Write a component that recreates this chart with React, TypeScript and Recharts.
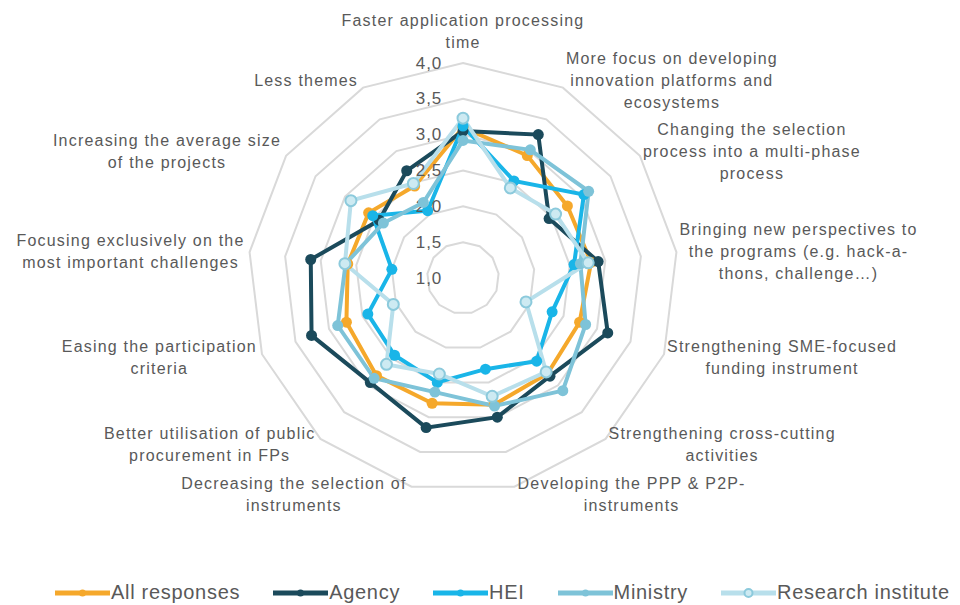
import React from 'react';
import { RadarChart, Radar, PolarGrid, PolarAngleAxis, PolarRadiusAxis, Legend } from 'recharts';

// categories clockwise from the top; \n marks the label line breaks
const categories = [
  'Faster application processing\ntime',
  'More focus on developing\ninnovation platforms and\necosystems',
  'Changing the selection\nprocess into a multi-phase\nprocess',
  'Bringing new perspectives to\nthe programs (e.g. hack-a-\nthons, challenge…)',
  'Strengthening SME-focused\nfunding instrument',
  'Strengthening cross-cutting\nactivities',
  'Developing the PPP & P2P-\ninstruments',
  'Decreasing the selection of\ninstruments',
  'Better utilisation of public\nprocurement in FPs',
  'Easing the participation\ncriteria',
  'Focusing exclusively on the\nmost important challenges',
  'Increasing the average size\nof the projects',
  'Less themes',
];

const allResponses = [3.1, 2.93, 2.77, 2.8, 2.74, 2.78, 2.82, 2.8, 2.82, 2.74, 2.62, 2.6, 2.45];
const agency = [3.05, 3.26, 2.46, 2.9, 3.16, 2.83, 3.0, 3.15, 2.95, 3.26, 3.14, 2.42, 2.69];
const hei = [3.12, 2.53, 3.05, 2.56, 2.33, 2.55, 2.31, 2.5, 2.44, 2.42, 2.0, 2.53, 2.06];
const ministry = [2.92, 3.02, 3.13, 2.65, 2.83, 3.1, 2.84, 2.64, 2.87, 2.87, 2.65, 2.35, 2.19];
const researchInstitute = [3.23, 2.42, 2.57, 2.76, 1.94, 2.75, 2.7, 2.38, 2.61, 2.04, 2.66, 2.9, 2.49];

const radiusTicks = [1, 1.5, 2, 2.5, 3, 3.5, 4];

const series = [
  { key: 'all', name: 'All responses', color: '#F5A82B', values: allResponses },
  { key: 'agency', name: 'Agency', color: '#1B4A5B', values: agency },
  { key: 'hei', name: 'HEI', color: '#19B5E8', values: hei },
  { key: 'ministry', name: 'Ministry', color: '#7EC3D8', values: ministry },
  { key: 'research', name: 'Research institute', color: '#B8DFEB', values: researchInstitute, hollow: true },
];

const data = categories.map((category, i) => {
  const row: Record<string, string | number> = { category };
  series.forEach((s) => { row[s.key] = s.values[i]; });
  return row;
});

const CX = 463;
const CY = 278;
const R = 215;
const GRAY = '#595959';
const FONT_FAMILY = '"Liberation Sans", Arial, sans-serif';
const LABEL_SIZE = 16;
const LABEL_SPACING = 1.2;

let measureCtx: CanvasRenderingContext2D | null = null;
function textWidth(s: string) {
  if (!measureCtx) measureCtx = document.createElement('canvas').getContext('2d');
  if (!measureCtx) return s.length * 8.5;
  measureCtx.font = `${LABEL_SIZE}px ${FONT_FAMILY}`;
  return measureCtx.measureText(s).width + s.length * LABEL_SPACING;
}

const AngleTick = (props: any) => {
  const { x, y, payload } = props;
  const dx = x - CX;
  const dy = y - CY;
  const len = Math.hypot(dx, dy) || 1;
  const ux = dx / len;
  const uy = dy / len;
  const vx = CX + ux * R;
  const vy = CY + uy * R;
  const lines = String(payload.value).split('\n');
  const w = Math.max(...lines.map(textWidth));
  const lh = 22;
  let tx = vx;
  if (ux > 0.1) tx = vx + 3 + w / 2;
  else if (ux < -0.1) tx = vx - 5 - w / 2;
  let top;
  if (Math.abs(ux) <= 0.1 && uy < 0) top = vy - 21 - (lines.length - 1) * lh;
  else top = vy + uy * 8 - ((lines.length - 1) * lh) / 2;
  return (
    <text
      fill={GRAY}
      fontSize={LABEL_SIZE}
      fontFamily={FONT_FAMILY}
      letterSpacing={LABEL_SPACING}
      textAnchor="middle"
    >
      {lines.map((l, i) => (
        <tspan key={i} x={tx} y={top + i * lh} dominantBaseline="central">
          {l}
        </tspan>
      ))}
    </text>
  );
};

const RadiusTick = (props: any) => {
  const { x, y, payload } = props;
  return (
    <text
      x={x - 34}
      y={y}
      fill={GRAY}
      fontSize={17}
      fontFamily={FONT_FAMILY}
      letterSpacing={1}
      textAnchor="middle"
      dominantBaseline="central"
    >
      {Number(payload.value).toFixed(1).replace('.', ',')}
    </text>
  );
};

const LegendContent = () => (
  <div style={{ display: 'flex', gap: 33, paddingLeft: 55, alignItems: 'center' }}>
    {series.map((s) => (
      <div key={s.key} style={{ display: 'flex', alignItems: 'center' }}>
        <svg width={55} height={14}>
          <line x1={0} y1={7} x2={55} y2={7} stroke={s.color} strokeWidth={5} />
          <circle
            cx={27.5}
            cy={7}
            r={s.hollow ? 4 : 3.5}
            fill={s.hollow ? '#CDEAF2' : s.color}
            stroke={s.hollow ? '#8CCADC' : s.color}
            strokeWidth={s.hollow ? 2 : 0}
          />
        </svg>
        <span
          style={{
            marginLeft: 1,
            fontSize: 20,
            letterSpacing: 0.7,
            color: GRAY,
            fontFamily: FONT_FAMILY,
          }}
        >
          {s.name}
        </span>
      </div>
    ))}
  </div>
);

export default function App() {
  return (
    <div style={{ position: 'absolute', left: 0, top: 0, width: 960, height: 605, background: '#fff' }}>
      <RadarChart
        width={960}
        height={605}
        data={data}
        cx={CX}
        cy={CY}
        outerRadius={R}
        margin={{ top: 0, right: 0, bottom: 0, left: 0 }}
      >
        <PolarGrid gridType="polygon" radialLines={false} stroke="#D9D9D9" strokeWidth={2} />
        <PolarAngleAxis dataKey="category" tick={AngleTick} tickLine={false} axisLine={false} />
        <PolarRadiusAxis
          angle={90}
          type="number"
          domain={[1, 4]}
          ticks={radiusTicks}
          tickCount={7}
          tick={RadiusTick}
          tickLine={false}
          axisLine={false}
        />
        {series.map((s) => (
          <Radar
            key={s.key}
            name={s.name}
            dataKey={s.key}
            stroke={s.color}
            strokeWidth={4}
            fill="none"
            fillOpacity={0}
            isAnimationActive={false}
            dot={
              s.hollow
                ? { r: 5.5, fill: '#CDEAF2', stroke: '#8CCADC', strokeWidth: 2, fillOpacity: 1 }
                : { r: 5.5, fill: s.color, stroke: s.color, strokeWidth: 0, fillOpacity: 1 }
            }
          />
        ))}
        <Legend
          verticalAlign="bottom"
          content={LegendContent}
          wrapperStyle={{ left: 0, bottom: -2, width: 960, height: 26 }}
        />
      </RadarChart>
    </div>
  );
}
